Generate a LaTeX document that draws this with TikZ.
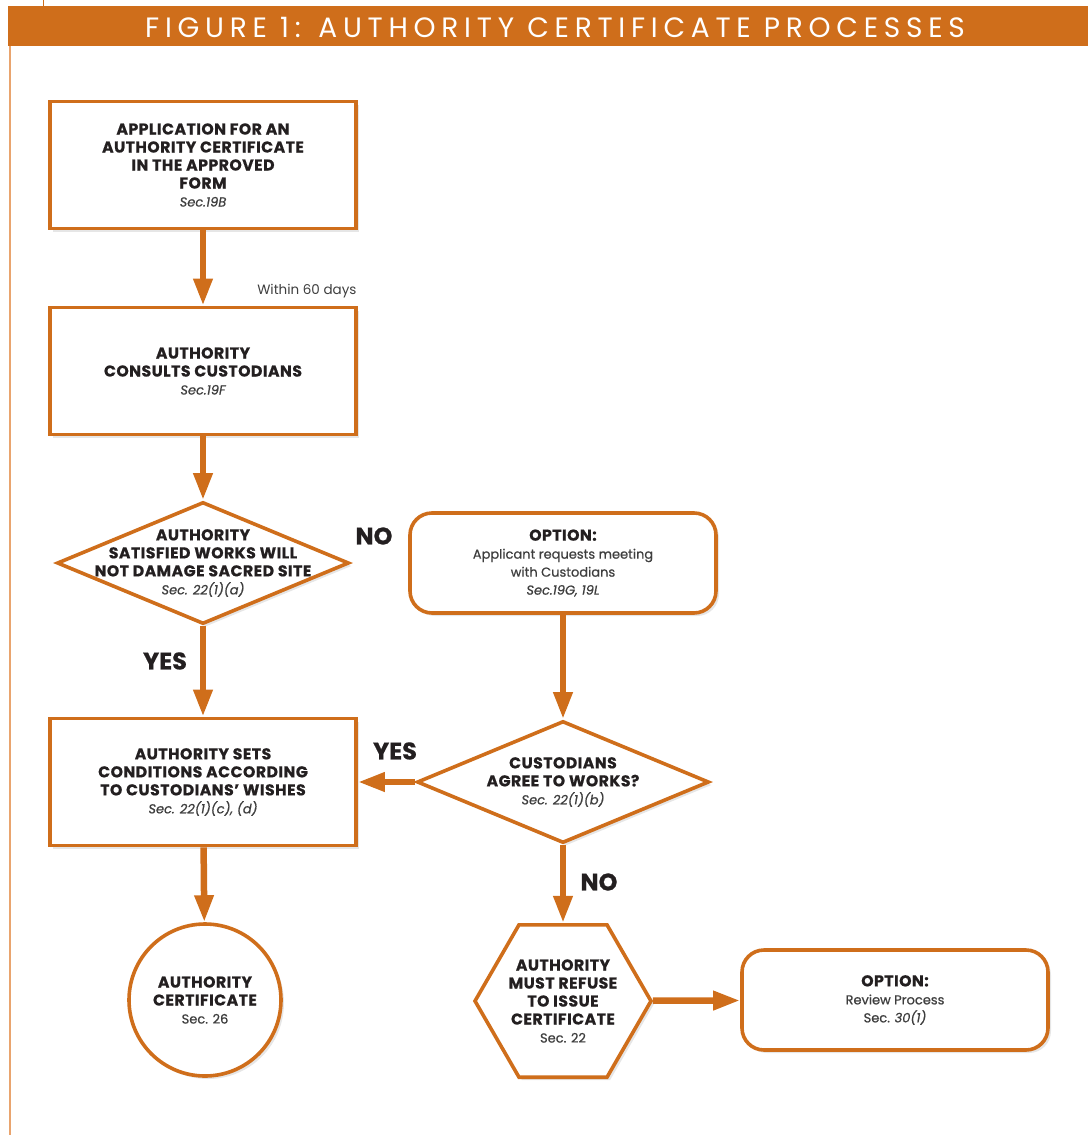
\documentclass[tikz,border=0pt]{standalone}
\usepackage{fontspec}
\setmainfont{Poppins}
\usetikzlibrary{shapes.geometric,arrows.meta,shadows}
\definecolor{rust}{HTML}{CF6E1B}
\definecolor{rustpale}{HTML}{E9A46E}
\definecolor{ink}{HTML}{231F20}
\definecolor{secgray}{HTML}{3E3E3E}
\newcommand{\secit}[1]{{\fontsize{13}{18}\selectfont\mdseries\itshape\addfontfeature{LetterSpace=0}\color{secgray}#1}}
\newcommand{\secup}[1]{{\fontsize{13}{18}\selectfont\mdseries\addfontfeature{LetterSpace=0}\color{secgray}#1}}
\begin{document}
\begin{tikzpicture}[
    x=1pt,y=-1pt,
    every node/.style={font=\fontsize{15.7}{18}\selectfont\bfseries\addfontfeature{FakeBold=0.6,LetterSpace=3},
        text=ink,align=center},
    frame/.style={draw=rust,line width=3.6pt,fill=white,
        drop shadow={opacity=.2,shadow xshift=3pt,shadow yshift=-3pt}},
    stepbox/.style={frame,rectangle,minimum width=306,minimum height=127},
    optbox/.style={frame,rectangle,rounded corners=22pt,minimum width=306,minimum height=100},
    decision/.style={frame,diamond,minimum width=292,minimum height=122,inner sep=0pt},
    flow/.style={draw=rust,line width=6.5pt,-{Triangle[width=18pt,length=27pt]}},
    answer/.style={font=\fontsize{24}{24}\selectfont\bfseries\addfontfeature{FakeBold=0.6}}]
    \useasboundingbox (0,0) rectangle (1088,1135);
    \fill[rust] (8,6) rectangle (1088,46);
    \draw[rust,line width=1pt] (43,0) -- (43,6);
    \draw[rustpale,line width=2pt] (9.5,46) -- (9.5,1135);
    \node[text=white,font=\fontsize{28}{28}\selectfont\addfontfeature{LetterSpace=20.5}]
        (title) at (555,27) {FIGURE 1: AUTHORITY CERTIFICATE PROCESSES};
    \node[stepbox] (apply) at (203,165)
        {APPLICATION FOR AN\\AUTHORITY CERTIFICATE\\IN THE APPROVED\\FORM\\\secit{Sec.19B}};
    \node[stepbox] (consult) at (203,371)
        {AUTHORITY\\CONSULTS CUSTODIANS\\\secit{Sec.19F}};
    \node[decision,label={center:{AUTHORITY\\SATISFIED WORKS WILL\\NOT DAMAGE SACRED SITE\\\secit{Sec. 22(1)(a)}}}]
        (satisfied) at (203,563) {};
    \node[stepbox] (conditions) at (203,782)
        {AUTHORITY SETS\\CONDITIONS ACCORDING\\TO CUSTODIANS' WISHES\\\secit{Sec. 22(1)(c), (d)}};
    \node[frame,circle,minimum size=152] (cert) at (205,1000)
        {AUTHORITY\\CERTIFICATE\\\secup{Sec. 26}};
    \node[optbox] (meeting) at (563,563)
        {OPTION:\\\secup{Applicant requests meeting}\\\secup{with Custodians}\\\secit{Sec.19G, 19L}};
    \node[decision,label={center:{CUSTODIANS\\AGREE TO WORKS?\\\secit{Sec. 22(1)(b)}}}]
        (agree) at (563,782) {};
    \node[frame,regular polygon,regular polygon sides=6,minimum size=176,inner sep=0pt,
        label={center:{AUTHORITY\\MUST REFUSE\\TO ISSUE\\CERTIFICATE\\\secup{Sec. 22}}}]
        (refuse) at (563,1001) {};
    \node[optbox] (review) at (895,1000)
        {OPTION:\\\secup{Review Process}\\\secup{Sec. \textit{30(1)}}};
    \draw[flow] (apply) -- (consult);
    \draw[flow] (consult) -- (satisfied);
    \draw[flow] (satisfied) -- (conditions);
    \draw[flow] (conditions) -- (cert);
    \draw[flow] (meeting) -- (agree);
    \draw[flow] (agree) -- (conditions);
    \draw[flow] (agree) -- (refuse);
    \draw[flow] (refuse) -- (review);
    \node[font=\fontsize{13.5}{14}\selectfont,text=secgray,anchor=east] (within) at (360,291) {Within 60 days};
    \node[answer] (nosat) at (374,536) {NO};
    \node[answer] (yessat) at (165,661) {YES};
    \node[answer] (yesagree) at (395,751) {YES};
    \node[answer] (noagree) at (599,882) {NO};
\end{tikzpicture}
\end{document}
